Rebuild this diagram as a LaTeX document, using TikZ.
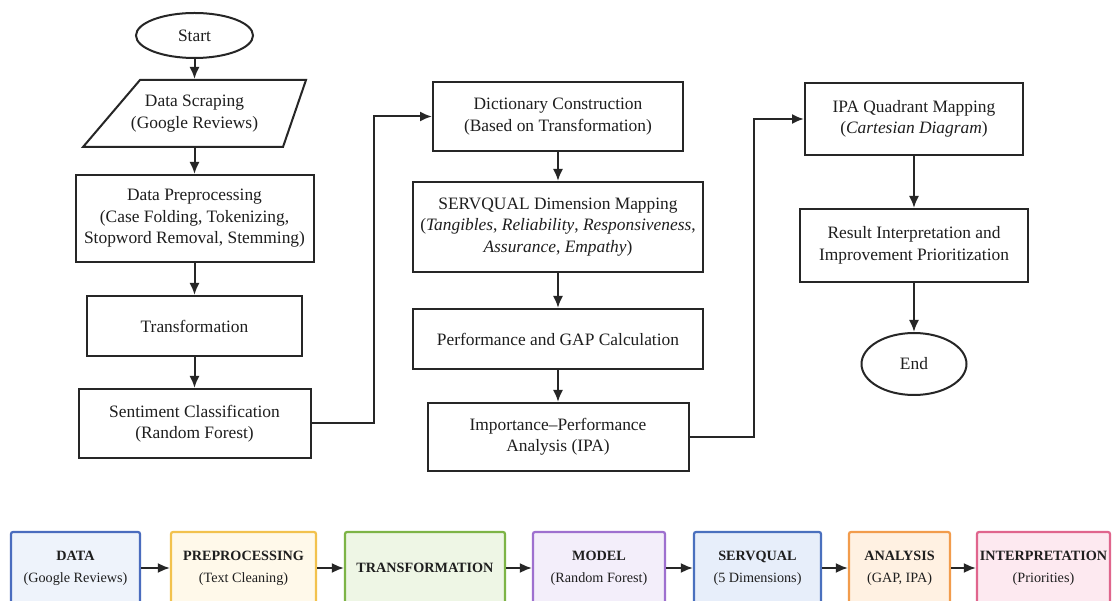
\documentclass[tikz,border=0pt]{standalone}
\usepackage{fontspec}
\setmainfont{Liberation Serif}
\usetikzlibrary{arrows.meta,shapes.geometric}
\definecolor{txt}{HTML}{1E1E1E}
\definecolor{lne}{HTML}{262626}
\definecolor{dataB}{HTML}{4A6CBE}\definecolor{dataF}{HTML}{EEF3FB}
\definecolor{prepB}{HTML}{F2C24E}\definecolor{prepF}{HTML}{FFF9EA}
\definecolor{tranB}{HTML}{7DB446}\definecolor{tranF}{HTML}{EEF6E5}
\definecolor{modB}{HTML}{9E70CF}\definecolor{modF}{HTML}{F3EEFA}
\definecolor{servB}{HTML}{4A70BE}\definecolor{servF}{HTML}{E7EEFA}
\definecolor{anaB}{HTML}{F29C4C}\definecolor{anaF}{HTML}{FFF1E2}
\definecolor{intB}{HTML}{E0658D}\definecolor{intF}{HTML}{FDE9F0}
\begin{document}
\begin{tikzpicture}[x=1pt,y=-1pt,
  flow/.style={draw=lne, line width=2pt, align=center, inner sep=0pt, text=txt,
    font=\fontsize{17.4}{21.5}\selectfont},
  boxnode/.style={flow, rectangle},
  term/.style={flow, ellipse},
  arr/.style={draw=lne, line width=2pt, -{Latex[length=12pt,width=10pt]}},
  stage/.style={rectangle, rounded corners=2pt, line width=2.2pt, align=center,
    inner sep=0pt, text=txt, minimum height=72, font=\fontsize{14.2}{22}\selectfont},
]
\clip (0,0) rectangle (1112,601);
\fill[white] (0,0) rectangle (1112,601);

% left column
\node[term, minimum width=117, minimum height=45] (start) at (194.5,35.5) {Start};
\draw[lne, line width=2pt, line join=miter] (140,80) -- (306,80) -- (283,147) -- (83,147) -- cycle;
\node[flow, draw=none, minimum height=67, minimum width=150] (scrape) at (194.5,113.5) {Data Scraping\\(Google Reviews)};
\node[boxnode, minimum width=238, minimum height=87] (prep) at (194.5,218.5)
  {Data Preprocessing\\(Case Folding, Tokenizing,\\Stopword Removal, Stemming)};
\node[boxnode, minimum width=215, minimum height=60] (trans) at (194.5,326) {Transformation};
\node[boxnode, minimum width=232, minimum height=69] (sent) at (194.5,423.5)
  {Sentiment Classification\\(Random Forest)};

% middle column
\node[boxnode, minimum width=250, minimum height=69] (dict) at (558,116.5)
  {Dictionary Construction\\(Based on Transformation)};
\node[boxnode, minimum width=290, minimum height=90] (serv) at (558,227)
  {SERVQUAL Dimension Mapping\\(\textit{Tangibles}, \textit{Reliability}, \textit{Responsiveness},\\\textit{Assurance}, \textit{Empathy})};
\node[boxnode, minimum width=290, minimum height=60] (perf) at (558,339)
  {Performance and GAP Calculation};
\node[boxnode, minimum width=261, minimum height=68] (ipa) at (558,437)
  {Importance–Performance\\Analysis (IPA)};

% right column
\node[boxnode, minimum width=218, minimum height=72] (quad) at (914,119)
  {IPA Quadrant Mapping\\(\textit{Cartesian Diagram})};
\node[boxnode, minimum width=228, minimum height=73] (res) at (914,245.5)
  {Result Interpretation and\\Improvement Prioritization};
\node[term, minimum width=105, minimum height=62] (endn) at (914,364) {End};

% connectors
\draw[arr] (start) -- (scrape);
\draw[arr] (scrape) -- (prep);
\draw[arr] (prep) -- (trans);
\draw[arr] (trans) -- (sent);
\draw[arr] (sent.east) -- ++(62,0) |- (dict.west);
\draw[arr] (dict) -- (serv);
\draw[arr] (serv) -- (perf);
\draw[arr] (perf) -- (ipa);
\draw[arr] (ipa.east) -- ++(64,0) |- (quad.west);
\draw[arr] (quad) -- (res);
\draw[arr] (res) -- (endn);

% bottom pipeline
\node[stage, draw=dataB, fill=dataF, minimum width=129] (b1) at (75.5,568) {\textbf{DATA}\\(Google Reviews)};
\node[stage, draw=prepB, fill=prepF, minimum width=145] (b2) at (243.5,568) {\textbf{PREPROCESSING}\\(Text Cleaning)};
\node[stage, draw=tranB, fill=tranF, minimum width=160] (b3) at (425,568) {\textbf{TRANSFORMATION}};
\node[stage, draw=modB, fill=modF, minimum width=132] (b4) at (599,568) {\textbf{MODEL}\\(Random Forest)};
\node[stage, draw=servB, fill=servF, minimum width=127] (b5) at (757.5,568) {\textbf{SERVQUAL}\\(5 Dimensions)};
\node[stage, draw=anaB, fill=anaF, minimum width=101] (b6) at (899.5,568) {\textbf{ANALYSIS}\\(GAP, IPA)};
\node[stage, draw=intB, fill=intF, minimum width=133] (b7) at (1043.5,568) {\textbf{INTERPRETATION}\\(Priorities)};
\foreach \a/\b in {b1/b2,b2/b3,b3/b4,b4/b5,b5/b6,b6/b7}
  \draw[arr] (\a) -- (\b);
\end{tikzpicture}
\end{document}
